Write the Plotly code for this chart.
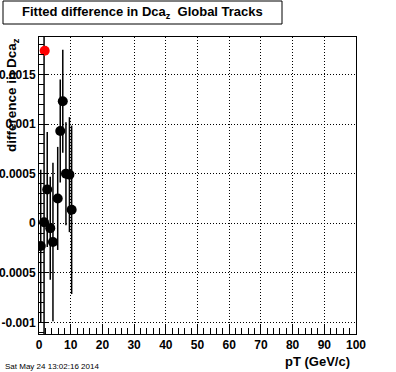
import plotly.graph_objects as go

# Data
pt = [0.55, 1.6, 2.6, 3.55, 4.4, 5.9, 6.7, 7.5, 8.5, 9.6, 10.3]
diff = [-0.00023, 0.00001, 0.00034, -0.00005, -0.00019, 0.00025, 0.00093, 0.00123, 0.00050, 0.00049, 0.000135]
err = [0.00077, 0.0030, 0.00058, 0.00052, 0.00080, 0.00052, 0.00052, 0.00052, 0.00052, 0.00058, 0.00085]
red_pt = [1.8]
red_val = [0.00174]

x_ticks = [0, 10, 20, 30, 40, 50, 60, 70, 80, 90, 100]
x_ticktext = ["0", "10", "20", "30", "40", "50", "60", "70", "80", "90", "100"]
y_ticks = [-0.001, -0.0005, 0, 0.0005, 0.001, 0.0015]
y_ticktext = ["-0.001", "-0.0005", "0", "0.0005", "0.001", "0.0015"]

W, H = 396, 372
L, R, T, B = 39, 40, 37, 38
PW, PH = W - L - R, H - T - B
FONT = "Liberation Sans, Arial, Helvetica, sans-serif"


def px_x(px):
    return (px - L) / PW


def px_y(py):
    return (H - B - py) / PH


fig = go.Figure()
fig.add_trace(go.Scatter(
    x=pt, y=diff, mode="markers",
    marker=dict(color="black", size=10),
    error_y=dict(type="data", array=err, color="black", thickness=1.5, width=0),
    showlegend=False,
))
fig.add_trace(go.Scatter(
    x=red_pt, y=red_val, mode="markers",
    marker=dict(color="red", size=10),
    showlegend=False,
))

axis_common = dict(
    showline=True, linecolor="black", linewidth=1, mirror=True,
    showgrid=True, gridcolor="black", griddash="1px,2px", gridwidth=1,
    zeroline=False, ticks="inside", tickcolor="black", tickwidth=1,
    automargin=False,
    tickfont=dict(family=FONT, size=12, color="black", weight="bold"),
)

fig.update_xaxes(
    range=[0, 100], tickvals=x_ticks, ticktext=x_ticktext, ticklen=10,
    minor=dict(dtick=2, ticks="inside", ticklen=6, tickcolor="black", showgrid=False),
    **axis_common,
)
fig.update_yaxes(
    range=[-0.001118, 0.001879], tickvals=y_ticks, ticktext=y_ticktext, ticklen=9,
    minor=dict(dtick=0.0001, ticks="inside", ticklen=5, tickcolor="black", showgrid=False),
    **axis_common,
)

fig.update_layout(
    template="none",
    width=W, height=H,
    margin=dict(l=L, r=R, t=T, b=B, pad=0),
    paper_bgcolor="white", plot_bgcolor="white",
    shapes=[dict(type="rect", xref="paper", yref="paper",
                 x0=px_x(3), x1=px_x(282), y0=px_y(24), y1=px_y(1),
                 line=dict(color="black", width=1), fillcolor="white", layer="above")],
    annotations=[
        dict(text="Fitted difference in Dca<sub>z</sub>  Global Tracks",
             xref="paper", yref="paper", x=px_x(142), y=px_y(12.5),
             xanchor="center", yanchor="middle", showarrow=False,
             font=dict(family=FONT, size=13, color="black", weight="bold")),
        dict(text="difference in Dca<sub>z</sub>",
             xref="paper", yref="paper", textangle=-90,
             x=px_x(13), y=px_y(36),
             xanchor="center", yanchor="top", showarrow=False,
             font=dict(family=FONT, size=13.5, color="black", weight="bold")),
        dict(text="pT (GeV/c)",
             xref="paper", yref="paper", x=px_x(352), y=px_y(361),
             xanchor="right", yanchor="middle", showarrow=False,
             font=dict(family=FONT, size=13, color="black", weight="bold")),
        dict(text="Sat May 24 13:02:16 2014",
             xref="paper", yref="paper", x=px_x(3), y=px_y(366),
             xanchor="left", yanchor="middle", showarrow=False,
             font=dict(family=FONT, size=8, color="black")),
    ],
)

fig.write_html("out.html", config={"displayModeBar": False, "staticPlot": True},
               post_script="document.body.style.margin='0px';document.body.style.overflow='hidden';")
